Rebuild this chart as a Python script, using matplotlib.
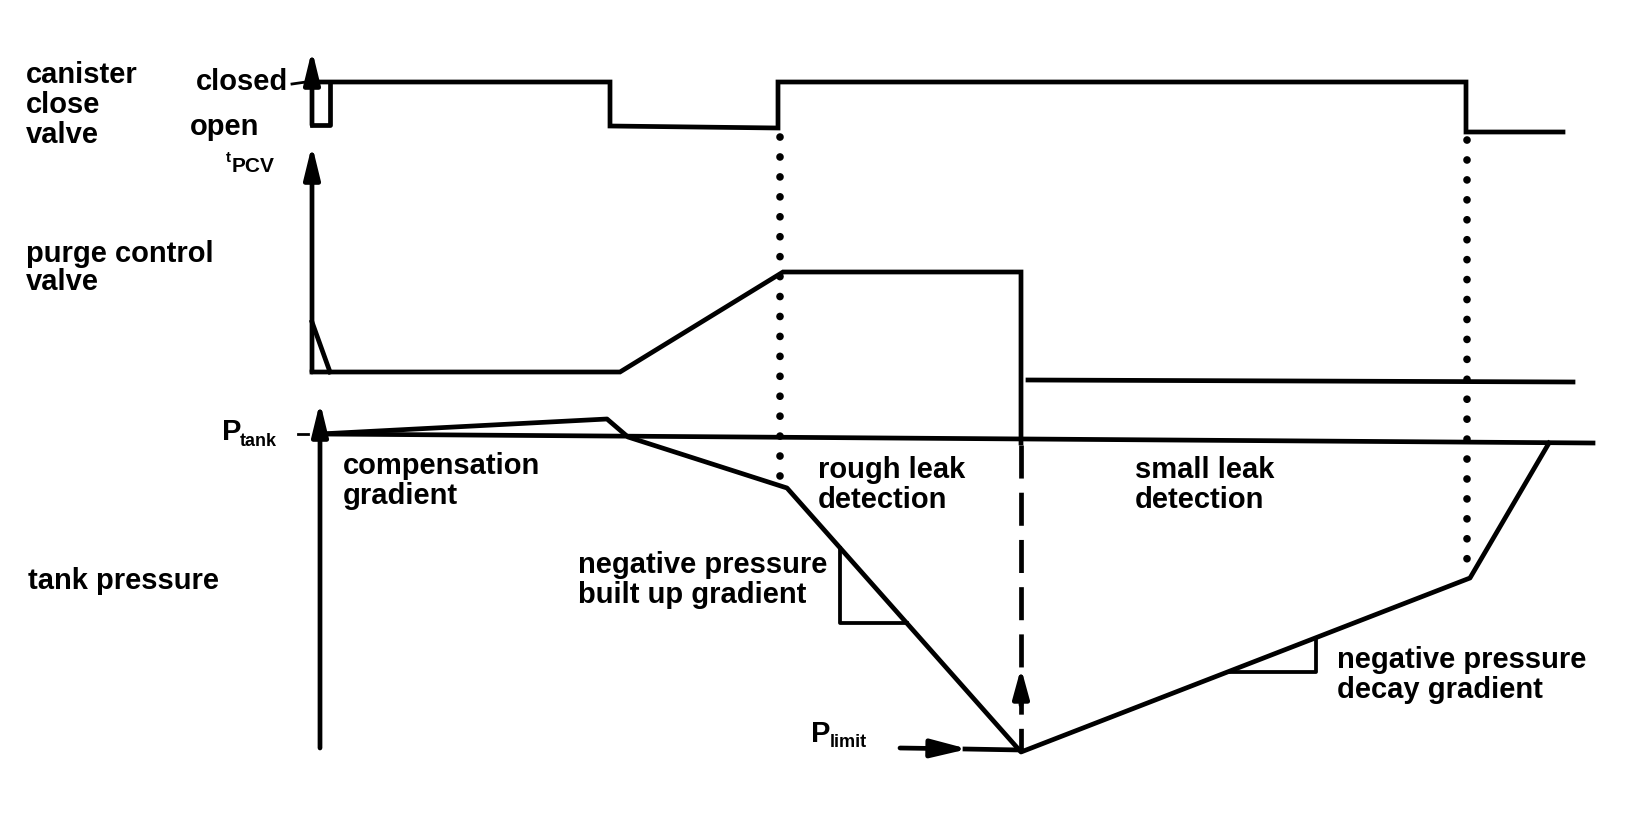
import numpy as np
import matplotlib
matplotlib.use("Agg")
import matplotlib.pyplot as plt

# Waypoints of each trace (diagram units = reference pixels, y grows downward)
# canister close valve
ccv_x = [312, 610, 610, 778, 778, 1466, 1466, 1563]
ccv_y = [82, 82, 126, 128, 82, 82, 132, 132]
ccv_notch_x = [312, 330, 330]
ccv_notch_y = [125, 125, 82]

# purge control valve
pcv_x = [312, 620, 783, 1021, 1021]
pcv_y = [372, 372, 272, 272, 443]
pcv_spike_x = [312, 330]
pcv_spike_y = [322, 372]
pcv_tail_x = [1028, 1573]
pcv_tail_y = [380, 382]

# tank pressure
ptank_x = [320, 1593]
ptank_y = [434, 443]
tp_x = [320, 607, 628, 787, 1021, 1470, 1549]
tp_y = [434, 419, 437, 488, 752, 578, 443]
plimit_y = 750

# phase boundaries (dotted) and gradient triangles
dot_x = [780, 1467]
dot_top = [137, 140]
build_tri_x = [840, 907]
decay_tri_x = [1228, 1316]

K = "black"
LW = 3.4
FONT = dict(family=["Liberation Sans", "DejaVu Sans"], fontweight="bold",
            fontsize=21, color=K)

fig = plt.figure(figsize=(16.47, 8.22), dpi=100)
ax = fig.add_axes([0, 0, 1, 1])
ax.set_xlim(0, 1647)
ax.set_ylim(822, 0)
ax.axis("off")


def arrow(x0, y0, x1, y1, w=0.22, l=0.9, lw=LW):
    ax.annotate("", xy=(x1, y1), xytext=(x0, y0),
                arrowprops=dict(arrowstyle=f"-|>,head_length={l},head_width={w}",
                                lw=lw, color=K, shrinkA=0, shrinkB=0,
                                mutation_scale=22))


# ---- vertical axes with arrows ----
arrow(312, 125, 312, 50)
arrow(312, 372, 312, 145)
arrow(320, 748, 320, 402)

# ---- canister close valve ----
ax.plot(ccv_x, ccv_y, color=K, lw=LW, solid_joinstyle="miter")
ax.plot(ccv_notch_x, ccv_notch_y, color=K, lw=LW)
ax.plot([292, 306], [84, 82], color=K, lw=2)

# ---- purge control valve ----
ax.plot(pcv_x, pcv_y, color=K, lw=LW, solid_joinstyle="miter")
ax.plot(pcv_spike_x, pcv_spike_y, color=K, lw=LW)
ax.plot(pcv_tail_x, pcv_tail_y, color=K, lw=LW)

# ---- tank pressure ----
ax.plot(ptank_x, ptank_y, color=K, lw=LW)
ax.plot(tp_x, tp_y, color=K, lw=LW, solid_joinstyle="round")
ax.plot([298, 308], [434, 434], color=K, lw=2)

# rough -> small leak boundary: dashed drop with up arrow
ax.plot([1021, 1021], [445, plimit_y], color=K, lw=LW, linestyle=(0, (7, 3)))
arrow(1021, 705, 1021, 668, w=0.22, l=0.8)

# P_limit arrow
arrow(900, plimit_y - 2, 968, plimit_y - 1, w=0.25, l=1.0)
ax.plot([965, 1021], [plimit_y - 1, plimit_y], color=K, lw=LW)

# dotted phase markers down to the pressure trace
for x, top in zip(dot_x, dot_top):
    bottom = np.interp(x, tp_x, tp_y)
    ax.plot([x, x], [top, bottom - 8], color=K, lw=5.5,
            linestyle=(0, (0.01, 2.6)), dash_capstyle="round")

# gradient triangles built on the pressure trace
by0 = np.interp(build_tri_x[0], tp_x, tp_y)
by1 = np.interp(build_tri_x[1], tp_x, tp_y)
ax.plot([build_tri_x[0], build_tri_x[0], build_tri_x[1]], [by0, by1, by1],
        color=K, lw=LW * 0.8)
dy0 = np.interp(decay_tri_x[0], tp_x, tp_y)
dy1 = np.interp(decay_tri_x[1], tp_x, tp_y)
ax.plot([decay_tri_x[0], decay_tri_x[1], decay_tri_x[1]], [dy0, dy0, dy1],
        color=K, lw=LW * 0.8)

# ---- labels ----
ax.text(26, 105, "canister\nclose\nvalve", va="center", ha="left",
        linespacing=1.08, **FONT)
ax.text(288, 82, "closed", va="center", ha="right", **FONT)
ax.text(190, 127, "open", va="center", ha="left", **FONT)
ax.text(226, 158, "t", va="center", ha="left", **{**FONT, "fontsize": 11})
ax.text(232, 166, "PCV", va="center", ha="left", **{**FONT, "fontsize": 15})
ax.text(26, 268, "purge control\nvalve", va="center", ha="left",
        linespacing=1.0, **FONT)
ax.text(222, 432, "P", va="center", ha="left", **FONT)
ax.text(240, 441, "tank", va="center", ha="left", **{**FONT, "fontsize": 13})
ax.text(343, 481, "compensation\ngradient", va="center", ha="left",
        linespacing=1.05, **FONT)
ax.text(818, 485, "rough leak\ndetection", va="center", ha="left",
        linespacing=1.05, **FONT)
ax.text(1135, 485, "small leak\ndetection", va="center", ha="left",
        linespacing=1.05, **FONT)
ax.text(28, 581, "tank pressure", va="center", ha="left", **FONT)
ax.text(578, 580, "negative pressure\nbuilt up gradient", va="center",
        ha="left", linespacing=1.05, **FONT)
ax.text(1337, 675, "negative pressure\ndecay gradient", va="center",
        ha="left", linespacing=1.05, **FONT)
ax.text(811, 734, "P", va="center", ha="left", **FONT)
ax.text(830, 742, "limit", va="center", ha="left", **{**FONT, "fontsize": 13})

fig.savefig("out.png", dpi=100, facecolor="white")
